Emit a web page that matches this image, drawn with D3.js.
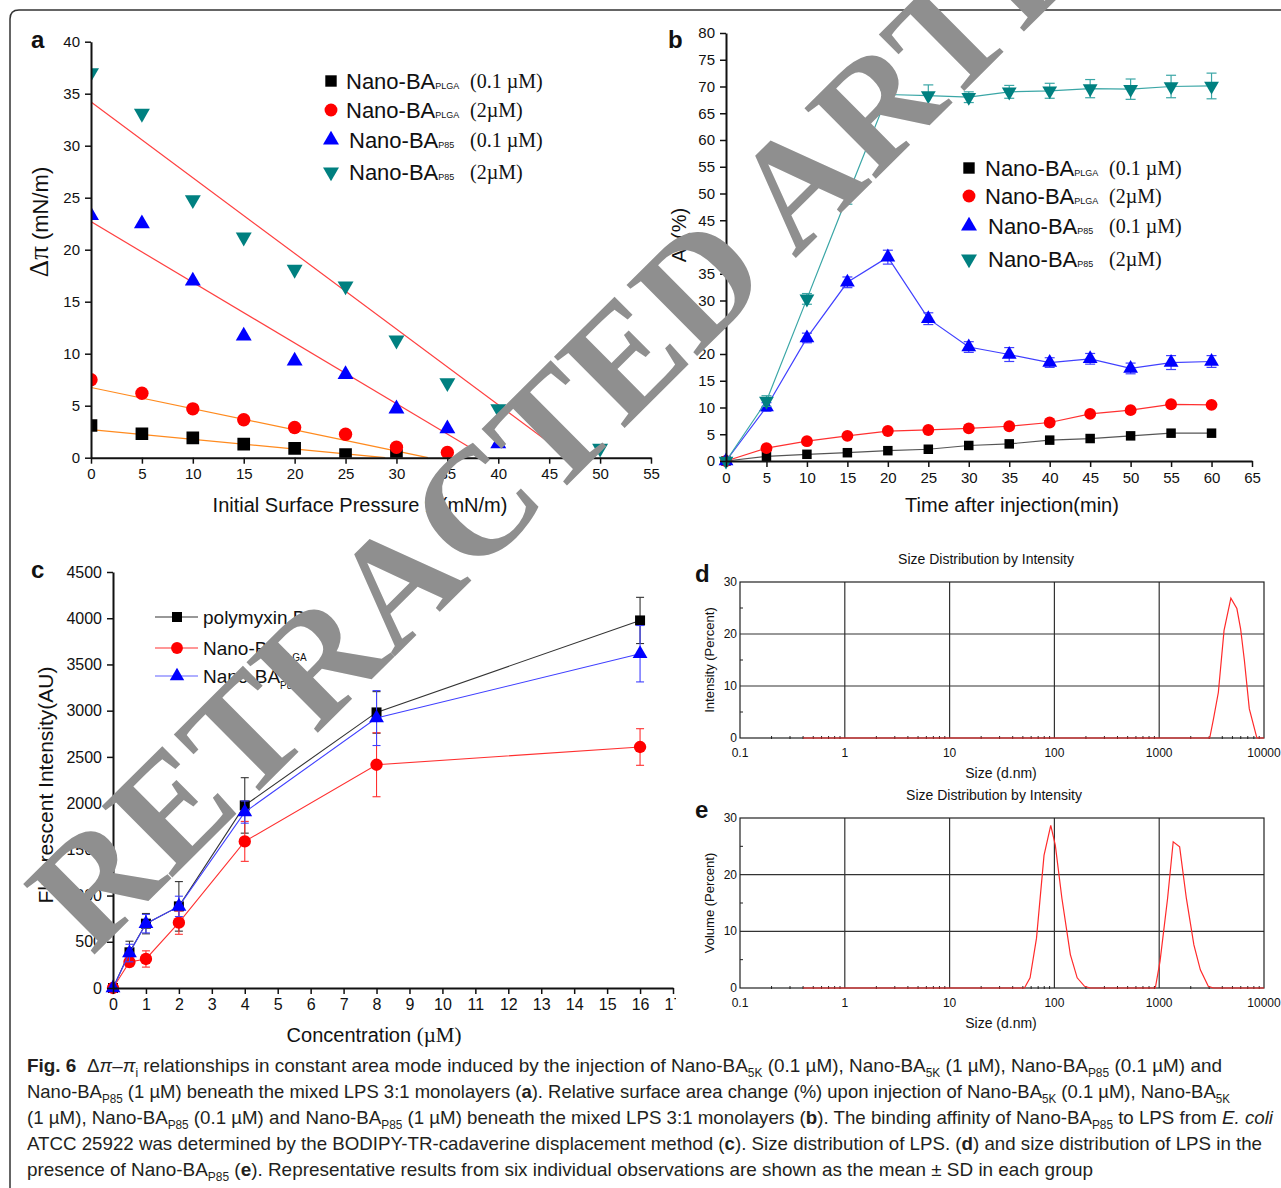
<!DOCTYPE html>
<html>
<head>
<meta charset="utf-8">
<script src="https://cdn.jsdelivr.net/npm/d3@7"></script>
<style>
  body { margin: 0; background: #fff; }
  svg { display: block; }
</style>
</head>
<body>
<svg id="fig"></svg>
<script>
// ---------- panel a : delta pi vs initial surface pressure
const aPressure = [0, 5, 10, 15, 20, 25, 30, 35, 40, 45, 50];
const aPlga01 = [3.1, 2.3, 1.9, 1.3, 0.9, 0.3, 0.2];
const aPlga2 = [7.5, 6.2, 4.7, 3.65, 2.9, 2.25, 1.0, 0.5];
const aP8501 = [23.3, 22.5, 17.0, 11.7, 9.3, 8.0, 4.7, 2.8, 1.35];
const aP852 = [37.0, 33.1, 24.8, 21.2, 18.1, 16.5, 11.3, 7.2, 4.7, 2.5, 0.9];
// linear fits : [delta pi at 0, x where delta pi = 0]
const aFitPlga01 = [2.7, 28.9];
const aFitPlga2 = [6.75, 33.1];
const aFitP8501 = [22.7, 38.9];
const aFitP852 = [34.2, 47.0];

// ---------- panel b : area change vs time
const bTime = [0, 5, 10, 15, 20, 25, 30, 35, 40, 45, 50, 55, 60];
const bPlga01 = [0, 0.87, 1.25, 1.55, 1.93, 2.2, 2.9, 3.2, 3.9, 4.2, 4.7, 5.2, 5.2];
const bPlga2 = [0, 2.4, 3.7, 4.7, 5.6, 5.8, 6.1, 6.5, 7.2, 8.8, 9.5, 10.6, 10.5];
const bP8501 = [0, 10.1, 23.0, 33.4, 38.1, 26.6, 21.3, 19.9, 18.4, 19.1, 17.3, 18.4, 18.6];
const bP8501Sd = [0, 0.8, 0.9, 1.0, 1.3, 1.1, 1.0, 1.3, 0.9, 1.0, 1.0, 1.3, 1.1];
const bP852 = [0, 11.2, 30.3, 49.5, 68.5, 68.3, 68.0, 69.0, 69.2, 69.6, 69.5, 70.0, 70.1];
const bP852Sd = [0, 1.0, 1.0, 1.5, 1.5, 2.0, 1.0, 1.2, 1.4, 1.7, 1.9, 2.1, 2.4];

// ---------- panel c : fluorescent intensity vs concentration
const cConc = [0, 0.5, 1, 2, 4, 8, 16];
const cPoly = [0, 386, 696, 883, 1975, 2981, 3976];
const cPolySd = [0, 120, 110, 268, 300, 225, 250];
const cPlga = [0, 281, 314, 707, 1586, 2415, 2607];
const cPlgaSd = [0, 40, 88, 126, 216, 346, 198];
const cP85 = [0, 378, 696, 883, 1903, 2920, 3616];
const cP85Sd = [0, 95, 100, 110, 120, 297, 305];

// ---------- panels d, e : size distributions
const dSize = [0.4, 3034, 3296, 3670, 4157, 4830, 5510, 5980, 6500, 7244, 8550, 10000];
const dIntensity = [0, 0, 3.7, 8.8, 20.7, 26.9, 24.9, 21.0, 14.9, 5.6, 0, 0];
const eSize = [0.4, 51.8, 58.6, 67.5, 79.6, 92.3, 102, 118, 142, 165, 194, 220,
               918, 1018, 1202, 1360, 1567, 1817, 2143, 2470, 2940, 3300, 10000];
const eVolume = [0, 0, 1.8, 8.8, 23.4, 28.7, 25.2, 15.8, 5.9, 1.8, 0.3, 0,
                 0, 4.7, 15.8, 25.8, 24.9, 15.8, 7.6, 3.2, 0.3, 0, 0];
const sizeTicks = [0.1, 1, 10, 100, 1000, 10000];

const legendNames = [["Nano-BA", "PLGA", "(0.1 µM)"], ["Nano-BA", "PLGA", "(2µM)"],
                     ["Nano-BA", "P85", "(0.1 µM)"], ["Nano-BA", "P85", "(2µM)"]];
const cLegendNames = [["polymyxin B", ""], ["Nano-BA", "PLGA"], ["Nano-BA", "P85"]];

const W = 1281, H = 1188;
const SANS = '"Liberation Sans", Arial, sans-serif';
const SERIF = '"Liberation Serif", "Times New Roman", serif';
const svg = d3.select('#fig').attr('width', W).attr('height', H)
    .attr('font-family', SANS).attr('fill', '#111');
svg.append('rect').attr('width', W).attr('height', H).attr('fill', '#fff');

// outer frame with rounded corner
svg.append('path')
    .attr('d', 'M10,1200 L10,19 Q10,10 19,10 L1295,10')
    .attr('fill', 'none').attr('stroke', '#333').attr('stroke-width', 1.5);

const sym = (type, size) => d3.symbol().type(type).size(size)();

function styleAxis(g, fs) {
    g.attr('font-family', SANS);
    g.selectAll('path.domain').attr('stroke', '#111').attr('stroke-width', 2);
    g.selectAll('.tick line').attr('stroke', '#111').attr('stroke-width', 1.5);
    g.selectAll('.tick text').attr('font-size', fs).attr('fill', '#111');
}

function panelLabel(txt, x, y) {
    svg.append('text').attr('x', x).attr('y', y).attr('font-size', 24)
        .attr('font-weight', 'bold').text(txt);
}

function legendRow(g, x, y, spec, colour, symbol, nameX, concX) {
    g.append('path').attr('d', symbol).attr('fill', colour)
        .attr('transform', `translate(${x},${y})`);
    const t = g.append('text').attr('x', nameX).attr('y', y + 8).attr('font-size', 22);
    t.append('tspan').text(spec[0]);
    t.append('tspan').attr('font-size', 9).text(spec[1]);
    g.append('text').attr('x', concX).attr('y', y + 7).attr('font-size', 20)
        .attr('font-family', SERIF).attr('xml:space', 'preserve').text(spec[2]);
}

// =============== panel a ===============
{
    const x = d3.scaleLinear().domain([0, 55]).range([91, 651]);
    const y = d3.scaleLinear().domain([0, 40]).range([457.7, 41.7]);
    const g = svg.append('g');
    svg.append('clipPath').attr('id', 'clipA').append('rect')
        .attr('x', 91).attr('y', 30).attr('width', 570).attr('height', 427.7);

    const plot = g.append('g').attr('clip-path', 'url(#clipA)');
    const fits = [[aFitPlga01, '#ff8a1e'], [aFitPlga2, '#ff8a1e'], [aFitP8501, '#ff4040'], [aFitP852, '#ff4040']];
    fits.forEach(([f, c]) => {
        plot.append('line').attr('x1', x(0)).attr('y1', y(f[0]))
            .attr('x2', x(f[1])).attr('y2', y(0)).attr('stroke', c).attr('stroke-width', 1.2);
    });
    const series = [
        [aPlga01, '#000', sym(d3.symbolSquare, 160), 0],
        [aPlga2, '#ff0000', sym(d3.symbolCircle, 140), 0],
        [aP8501, '#0000ff', sym(d3.symbolTriangle, 110), 0],
        [aP852, '#008080', sym(d3.symbolTriangle, 110), 180]
    ];
    series.forEach(([vals, c, s, rot]) => {
        plot.selectAll(null).data(vals).enter().append('path')
            .attr('d', s).attr('fill', c)
            .attr('transform', (d, i) => `translate(${x(aPressure[i])},${y(d)}) rotate(${rot})`);
    });

    const gx = g.append('g').attr('transform', `translate(0,${y(0)})`)
        .call(d3.axisBottom(x).tickValues(d3.range(0, 56, 5)).tickSize(6).tickSizeOuter(0).tickPadding(5));
    styleAxis(gx, 15);
    const gy = g.append('g').attr('transform', `translate(${x(0)},0)`)
        .call(d3.axisLeft(y).tickValues(d3.range(0, 41, 5)).tickSize(6).tickSizeOuter(0).tickPadding(5));
    styleAxis(gy, 15);

    const yl = g.append('text').attr('transform', 'translate(48,222) rotate(-90)')
        .attr('text-anchor', 'middle').attr('font-size', 22);
    yl.append('tspan').attr('font-family', SERIF).attr('font-size', 27).text('Δπ');
    yl.append('tspan').text(' (mN/m)');
    const xl = g.append('text').attr('x', 360).attr('y', 512).attr('text-anchor', 'middle').attr('font-size', 20);
    xl.append('tspan').text('Initial Surface Pressure ');
    xl.append('tspan').attr('font-family', SERIF).attr('font-size', 23).text('π');
    xl.append('tspan').attr('font-family', SERIF).attr('font-size', 15).attr('dy', 3).text('i');
    xl.append('tspan').attr('dy', -3).text('(mN/m)');

    const lg = g.append('g');
    const lc = ['#000', '#ff0000', '#0000ff', '#008080'];
    const ls = [sym(d3.symbolSquare, 130), sym(d3.symbolCircle, 130),
                sym(d3.symbolTriangle, 110), sym(d3.symbolTriangle, 110)];
    const ly = [81, 110, 140, 172];
    legendNames.forEach((n, i) => {
        legendRow(lg, 331, ly[i], n, lc[i], ls[i], i < 2 ? 346 : 349, 470);
    });
    lg.selectAll('path').filter((d, i) => i === 3).attr('transform', `translate(331,${ly[3]}) rotate(180)`);
    panelLabel('a', 31, 48);
}

// =============== panel b ===============
{
    const x = d3.scaleLinear().domain([0, 65]).range([726, 1252]);
    const y = d3.scaleLinear().domain([0, 80]).range([461, 33]);
    const g = svg.append('g');
    const line = vals => d3.line().x((d, i) => x(bTime[i])).y(d => y(d))(vals);
    const series = [
        [bPlga01, null, '#555', '#000', sym(d3.symbolSquare, 90), 0],
        [bPlga2, null, '#ff3030', '#ff0000', sym(d3.symbolCircle, 110), 0],
        [bP8501, bP8501Sd, '#4040ff', '#0000ff', sym(d3.symbolTriangle, 95), 0],
        [bP852, bP852Sd, '#3aa6a6', '#008080', sym(d3.symbolTriangle, 95), 180]
    ];
    series.forEach(([vals, sd, lcol, mcol, s, rot]) => {
        g.append('path').attr('d', line(vals)).attr('fill', 'none')
            .attr('stroke', lcol).attr('stroke-width', 1.2);
        if (sd) {
            const eb = g.append('g').attr('stroke', lcol).attr('stroke-width', 1.2);
            vals.forEach((v, i) => {
                if (!sd[i]) return;
                const cx = x(bTime[i]);
                eb.append('line').attr('x1', cx).attr('x2', cx).attr('y1', y(v - sd[i])).attr('y2', y(v + sd[i]));
                eb.append('line').attr('x1', cx - 5).attr('x2', cx + 5).attr('y1', y(v - sd[i])).attr('y2', y(v - sd[i]));
                eb.append('line').attr('x1', cx - 5).attr('x2', cx + 5).attr('y1', y(v + sd[i])).attr('y2', y(v + sd[i]));
            });
        }
        g.selectAll(null).data(vals).enter().append('path')
            .attr('d', s).attr('fill', mcol)
            .attr('transform', (d, i) => `translate(${x(bTime[i])},${y(d)}) rotate(${rot})`);
    });

    const gx = g.append('g').attr('transform', `translate(0,${y(0)})`)
        .call(d3.axisBottom(x).tickValues(d3.range(0, 66, 5)).tickSize(6).tickSizeOuter(0).tickPadding(5));
    styleAxis(gx, 15);
    const gy = g.append('g').attr('transform', `translate(${x(0)},0)`)
        .call(d3.axisLeft(y).tickValues(d3.range(0, 81, 5)).tickSize(6).tickSizeOuter(0).tickPadding(5));
    styleAxis(gy, 15);

    g.append('text').attr('transform', 'translate(686,235) rotate(-90)')
        .attr('text-anchor', 'middle').attr('font-size', 20).attr('xml:space', 'preserve').text('A\u2002(%)');
    g.append('text').attr('x', 1012).attr('y', 512).attr('text-anchor', 'middle')
        .attr('font-size', 20).text('Time after injection(min)');

    const lg = g.append('g');
    const lc = ['#000', '#ff0000', '#0000ff', '#008080'];
    const ls = [sym(d3.symbolSquare, 130), sym(d3.symbolCircle, 130),
                sym(d3.symbolTriangle, 110), sym(d3.symbolTriangle, 110)];
    const ly = [168, 196, 226, 259];
    legendNames.forEach((n, i) => {
        legendRow(lg, 969, ly[i], n, lc[i], ls[i], i < 2 ? 985 : 988, 1109);
    });
    lg.selectAll('path').filter((d, i) => i === 3).attr('transform', `translate(969,${ly[3]}) rotate(180)`);
    panelLabel('b', 668, 48);
}

// =============== panel c ===============
{
    const x = d3.scaleLinear().domain([0, 17]).range([113, 673]);
    const y = d3.scaleLinear().domain([0, 4500]).range([988, 572]);
    svg.append('clipPath').attr('id', 'clipC').append('rect')
        .attr('x', 0).attr('y', 540).attr('width', 676).attr('height', 520);
    const g = svg.append('g').attr('clip-path', 'url(#clipC)');
    const line = vals => d3.line().x((d, i) => x(cConc[i])).y(d => y(d))(vals);
    const series = [
        [cPoly, cPolySd, '#333', '#000', sym(d3.symbolSquare, 100)],
        [cPlga, cPlgaSd, '#ff3030', '#ff0000', sym(d3.symbolCircle, 120)],
        [cP85, cP85Sd, '#4040ff', '#0000ff', sym(d3.symbolTriangle, 95)]
    ];
    series.forEach(([vals, sd, lcol, mcol, s]) => {
        g.append('path').attr('d', line(vals)).attr('fill', 'none')
            .attr('stroke', lcol).attr('stroke-width', 1.1);
        const eb = g.append('g').attr('stroke', lcol).attr('stroke-width', 1.1);
        vals.forEach((v, i) => {
            if (!sd[i]) return;
            const cx = x(cConc[i]);
            eb.append('line').attr('x1', cx).attr('x2', cx).attr('y1', y(v - sd[i])).attr('y2', y(v + sd[i]));
            eb.append('line').attr('x1', cx - 4).attr('x2', cx + 4).attr('y1', y(v - sd[i])).attr('y2', y(v - sd[i]));
            eb.append('line').attr('x1', cx - 4).attr('x2', cx + 4).attr('y1', y(v + sd[i])).attr('y2', y(v + sd[i]));
        });
        g.selectAll(null).data(vals).enter().append('path')
            .attr('d', s).attr('fill', mcol)
            .attr('transform', (d, i) => `translate(${x(cConc[i])},${y(d)})`);
    });

    const gx = g.append('g').attr('transform', `translate(0,${y(0)})`)
        .call(d3.axisBottom(x).tickValues(d3.range(0, 18, 1)).tickSize(6).tickSizeOuter(0).tickPadding(5));
    styleAxis(gx, 16);
    const gy = g.append('g').attr('transform', `translate(${x(0)},0)`)
        .call(d3.axisLeft(y).tickValues(d3.range(0, 4501, 500)).tickFormat(d3.format('d'))
            .tickSize(6).tickSizeOuter(0).tickPadding(5));
    styleAxis(gy, 16);

    g.append('text').attr('transform', 'translate(53,785) rotate(-90)')
        .attr('text-anchor', 'middle').attr('font-size', 21).text('Fluorescent Intensity(AU)');
    const xl = g.append('text').attr('x', 374).attr('y', 1042).attr('text-anchor', 'middle').attr('font-size', 20);
    xl.append('tspan').text('Concentration ');
    xl.append('tspan').attr('font-family', SERIF).attr('font-size', 21).text('(µM)');

    const lg = g.append('g');
    const lc = [['#333', '#000'], ['#ff3030', '#ff0000'], ['#6060ff', '#0000ff']];
    const ls = [sym(d3.symbolSquare, 100), sym(d3.symbolCircle, 110), sym(d3.symbolTriangle, 90)];
    const ly = [617, 648, 676];
    cLegendNames.forEach((n, i) => {
        lg.append('line').attr('x1', 155).attr('x2', 198).attr('y1', ly[i]).attr('y2', ly[i])
            .attr('stroke', lc[i][0]).attr('stroke-width', 1.1);
        lg.append('path').attr('d', ls[i]).attr('fill', lc[i][1]).attr('transform', `translate(177,${ly[i]})`);
        const t = lg.append('text').attr('x', 203).attr('y', ly[i] + 7).attr('font-size', 19);
        t.append('tspan').text(n[0]);
        if (n[1]) t.append('tspan').attr('font-size', 10).attr('dy', 6).text(n[1]);
    });
    panelLabel('c', 31, 578);
}

// =============== panels d, e ===============
function sizePanel(top, bottom, sizes, vals, title, titleX, ylab, label) {
    const x = d3.scaleLog().domain([0.1, 10000]).range([740, 1264]);
    const y = d3.scaleLinear().domain([0, 30]).range([bottom, top]);
    const g = svg.append('g');
    // grid
    g.selectAll(null).data([1, 10, 100, 1000]).enter().append('line')
        .attr('x1', d => x(d)).attr('x2', d => x(d)).attr('y1', top).attr('y2', bottom)
        .attr('stroke', '#333').attr('stroke-width', 1.2);
    g.selectAll(null).data([10, 20]).enter().append('line')
        .attr('x1', 740).attr('x2', 1264).attr('y1', d => y(d)).attr('y2', d => y(d))
        .attr('stroke', '#333').attr('stroke-width', 1.2);
    // minor ticks
    const minors = [];
    for (let e = -1; e < 4; e++) for (let m = 2; m < 10; m++) minors.push(m * Math.pow(10, e));
    g.selectAll(null).data(minors).enter().append('line')
        .attr('x1', d => x(d)).attr('x2', d => x(d)).attr('y1', bottom - 2).attr('y2', bottom + 1)
        .attr('stroke', '#222').attr('stroke-width', 1);
    g.selectAll(null).data([5, 15, 25]).enter().append('line')
        .attr('x1', 740).attr('x2', 743).attr('y1', d => y(d)).attr('y2', d => y(d))
        .attr('stroke', '#222').attr('stroke-width', 1);
    g.append('rect').attr('x', 740).attr('y', top).attr('width', 524).attr('height', bottom - top)
        .attr('fill', 'none').attr('stroke', '#222').attr('stroke-width', 1.2);
    // curve
    g.append('path').attr('fill', 'none').attr('stroke', '#ff2a2a').attr('stroke-width', 1.2)
        .attr('d', d3.line().x((d, i) => x(sizes[i])).y(d => y(d))(vals));
    // tick labels
    g.selectAll(null).data(sizeTicks).enter().append('text')
        .attr('x', d => x(d)).attr('y', bottom + 19).attr('text-anchor', 'middle')
        .attr('font-size', 12).text(d => d);
    g.selectAll(null).data([0, 10, 20, 30]).enter().append('text')
        .attr('x', 737).attr('y', d => y(d) + 4).attr('text-anchor', 'end')
        .attr('font-size', 12).text(d => d);
    g.append('text').attr('x', titleX).attr('y', top - 18).attr('text-anchor', 'middle')
        .attr('font-size', 14).text(title);
    g.append('text').attr('x', 1001).attr('y', bottom + 40).attr('text-anchor', 'middle')
        .attr('font-size', 14).text('Size (d.nm)');
    g.append('text').attr('transform', `translate(714,${(top + bottom) / 2}) rotate(-90)`)
        .attr('text-anchor', 'middle').attr('font-size', 13).text(ylab);
    panelLabel(label, 695, top);
}
sizePanel(582, 738, dSize, dIntensity, 'Size Distribution by Intensity', 986, 'Intensity (Percent)', 'd');
sizePanel(818, 988, eSize, eVolume, 'Size Distribution by Intensity', 994, 'Volume (Percent)', 'e');

// =============== caption ===============
const captionLines = [
    [["Fig. 6", "b"], ["  Δ", ""], ["π", "i"], ["–", ""], ["π", "i"], ["i", "sub"],
     [" relationships in constant area mode induced by the injection of Nano-BA", ""], ["5K", "sub"],
     [" (0.1 µM), Nano-BA", ""], ["5K", "sub"], [" (1 µM), Nano-BA", ""], ["P85", "sub"], [" (0.1 µM) and", ""]],
    [["Nano-BA", ""], ["P85", "sub"], [" (1 µM) beneath the mixed LPS 3:1 monolayers (", ""], ["a", "b"],
     ["). Relative surface area change (%) upon injection of Nano-BA", ""], ["5K", "sub"],
     [" (0.1 µM), Nano-BA", ""], ["5K", "sub"]],
    [["(1 µM), Nano-BA", ""], ["P85", "sub"], [" (0.1 µM) and Nano-BA", ""], ["P85", "sub"],
     [" (1 µM) beneath the mixed LPS 3:1 monolayers (", ""], ["b", "b"],
     ["). The binding affinity of Nano-BA", ""], ["P85", "sub"], [" to LPS from ", ""], ["E. coli", "i"]],
    [["ATCC 25922 was determined by the BODIPY-TR-cadaverine displacement method (", ""], ["c", "b"],
     ["). Size distribution of LPS. (", ""], ["d", "b"], [") and size distribution of LPS in the", ""]],
    [["presence of Nano-BA", ""], ["P85", "sub"], [" (", ""], ["e", "b"],
     ["). Representative results from six individual observations are shown as the mean ± SD in each group", ""]]
];
const captionWidths = [1195, 1203, 1246, 1235, 1066];
captionLines.forEach((parts, li) => {
    const t = svg.append('text').attr('x', 27).attr('y', 1072 + li * 26)
        .attr('font-size', 19).attr('xml:space', 'preserve')
        .attr('textLength', captionWidths[li]).attr('lengthAdjust', 'spacingAndGlyphs')
        .attr('fill', '#231f20');
    let shifted = false;
    parts.forEach(([s, k]) => {
        const sp = t.append('tspan').text(s);
        if (k === 'sub') { sp.attr('font-size', 12).attr('dy', 5); shifted = true; return; }
        if (shifted) { sp.attr('dy', -5); shifted = false; }
        if (k === 'b') sp.attr('font-weight', 'bold');
        if (k === 'i') sp.attr('font-style', 'italic');
    });
});

// =============== watermark ===============
svg.append('text')
    .attr('transform', 'translate(92,957) rotate(-44.8)')
    .attr('font-family', SERIF).attr('font-weight', 'bold').attr('font-size', 153)
    .attr('fill', '#8f8f8f')
    .text('RETRACTED ARTICLE');
</script>
</body>
</html>
